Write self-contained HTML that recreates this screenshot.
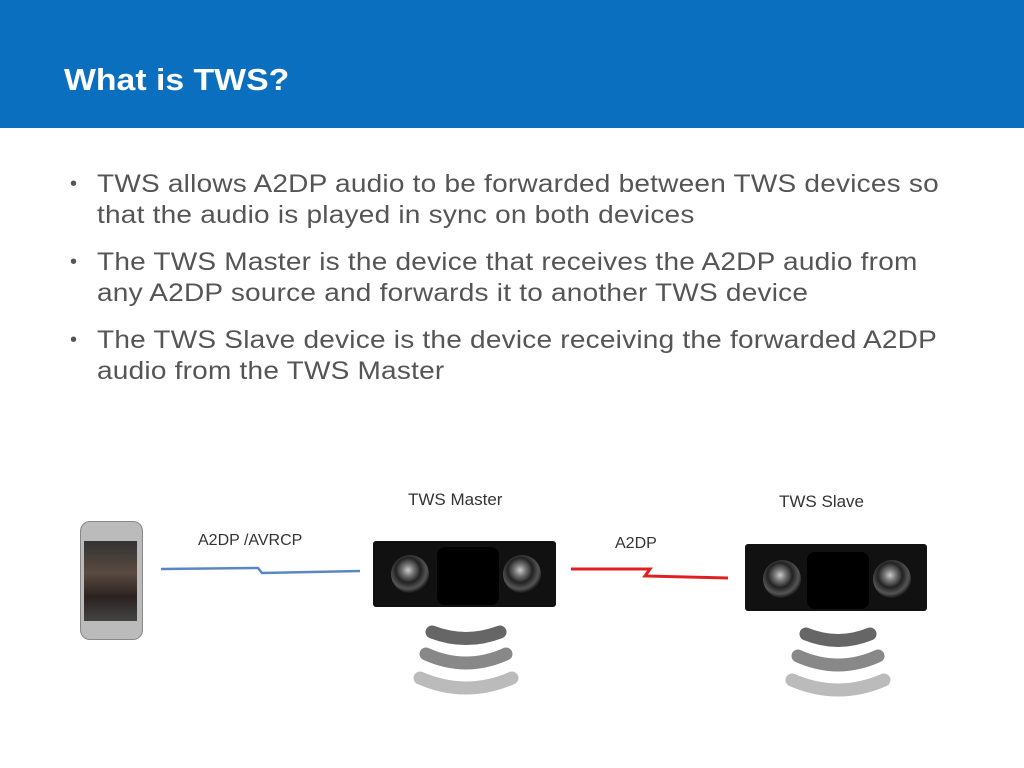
<!DOCTYPE html>
<html><head><style>
body{margin:0;width:1024px;height:768px;background:#fff;position:relative;overflow:hidden;font-family:"Liberation Sans",Arial,sans-serif}
.hdr{position:absolute;left:0;top:0;width:1024px;height:128px;background:#0b6fbf}
.title{position:absolute;left:64px;top:62px;color:#fff;font-weight:bold;font-size:31px;transform:scaleX(1.09);transform-origin:left}
.b{position:absolute;left:97px;font-size:25px;color:#555;line-height:31px;white-space:nowrap;transform:scaleX(1.12);transform-origin:left top;letter-spacing:0.2px}
.d{position:absolute;left:70px;font-size:20px;color:#555}
.lbl{position:absolute;font-size:16px;color:#333}
.spk{position:absolute;background:#111;border-radius:3px}
.cone{position:absolute;width:38px;height:38px;border-radius:50%;background:radial-gradient(circle at 45% 40%,#ccc 0,#777 18%,#222 40%,#555 60%,#111 75%)}
.mid{position:absolute;background:#000;border-radius:8px}
</style></head><body>
<div class="hdr"></div>
<div class="title">What is TWS?</div>
<div class="d" style="top:173px">•</div><div class="b" style="top:169px">TWS allows A2DP audio to be forwarded between TWS devices so<br>that the audio is played in sync on both devices</div>
<div class="d" style="top:251px">•</div><div class="b" style="top:247px">The TWS Master is the device that receives the A2DP audio from<br>any A2DP source and forwards it to another TWS device</div>
<div class="d" style="top:329px">•</div><div class="b" style="top:325px">The TWS Slave device is the device receiving the forwarded A2DP<br>audio from the TWS Master</div>

<div class="lbl" style="left:408px;top:490px;font-size:17px">TWS Master</div>
<div class="lbl" style="left:779px;top:492px;font-size:17px">TWS Slave</div>
<div class="lbl" style="left:198px;top:532px">A2DP /AVRCP</div>
<div class="lbl" style="left:615px;top:535px">A2DP</div>

<div style="position:absolute;left:80px;top:521px;width:61px;height:117px;border-radius:10px;background:#bbb;border:1px solid #888"></div>
<div style="position:absolute;left:84px;top:541px;width:53px;height:80px;background:linear-gradient(#333,#5a4a40 40%,#2a2220 70%,#444)"></div>

<svg width="1024" height="768" style="position:absolute;left:0;top:0">
<polyline points="161,569 258,568 262,573 360,571" fill="none" stroke="#5b86c4" stroke-width="2.5"/>
<polyline points="571,569 650,569 645,576 728,578" fill="none" stroke="#e02020" stroke-width="3"/>
<g fill="none" stroke-linecap="round" stroke-width="13">
<path d="M432,632 Q466,645 500,632" stroke="#666"/>
<path d="M426,654 Q466,672 506,654" stroke="#888"/>
<path d="M420,678 Q466,698 512,678" stroke="#bbb"/>
<path d="M806,634 Q838,647 870,634" stroke="#666"/>
<path d="M798,656 Q838,674 878,656" stroke="#888"/>
<path d="M792,680 Q838,700 884,680" stroke="#bbb"/>
</g>
</svg>

<div class="spk" style="left:373px;top:541px;width:183px;height:66px">
 <div class="mid" style="left:64px;top:6px;width:62px;height:58px"></div>
 <div class="cone" style="left:18px;top:14px"></div>
 <div class="cone" style="left:130px;top:14px"></div>
</div>
<div class="spk" style="left:745px;top:544px;width:182px;height:67px">
 <div class="mid" style="left:62px;top:8px;width:62px;height:57px"></div>
 <div class="cone" style="left:18px;top:16px"></div>
 <div class="cone" style="left:128px;top:16px"></div>
</div>
</body></html>
